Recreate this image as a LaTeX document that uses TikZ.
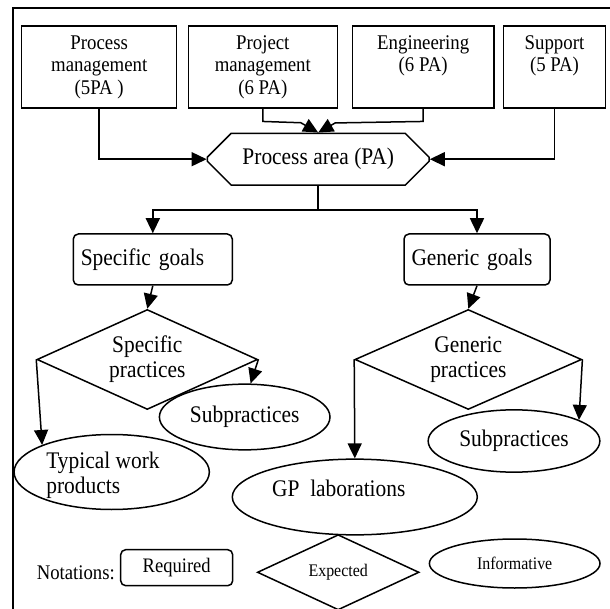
\documentclass[tikz,border=0pt]{standalone}
\usepackage{fontspec}
\setmainfont{Liberation Serif}[FakeStretch=0.9]
\usetikzlibrary{shapes.geometric,shapes.misc,arrows.meta}

\newcommand{\diagfont}{\fontsize{23.8}{25}\selectfont}
\newcommand{\headfont}{\fontsize{20.9}{22.5}\selectfont}
\newcommand{\smallkey}{\fontsize{17.7}{19}\selectfont}

\begin{document}
\begin{tikzpicture}[x=1pt,y=-1pt,line width=1.5pt,
  areabox/.style={draw,rectangle,minimum height=82pt,inner sep=0pt,align=center,font=\headfont},
  goalbox/.style={draw,rectangle,rounded corners=5pt,minimum height=51pt,inner xsep=7.5pt,align=left,font=\diagfont},
  practice/.style={draw,diamond,aspect=2.2,inner sep=0pt,minimum height=100pt,align=center,font=\diagfont},
  infoell/.style={draw,ellipse,inner sep=0pt,align=left,font=\diagfont},
  arr/.style={-{Triangle[length=15pt,width=14pt]}}]

\useasboundingbox (0,0) rectangle (610,609);

% frame, cut off by the page edge
\draw[line width=1.8pt] (12.7,609) -- (12.7,8.3) -- (610,8.3);

% process area categories
\node[areabox,minimum width=155pt] (pm) at (99.2,67.2) {Process\\management\\(5PA )};
\node[areabox,minimum width=149pt] (pjm) at (262.8,67.2) {Project\\management\\(6 PA)};
\node[areabox,minimum width=141.7pt] (eng) at (423.2,67.2) {Engineering\\(6 PA)\\\phantom{(}};
\node[areabox,minimum width=102.4pt] (sup) at (554.5,67.2) {Support\\(5 PA)\\\phantom{(}};

\node[draw,chamfered rectangle,chamfered rectangle xsep=15pt,chamfered rectangle ysep=13pt,
  minimum width=221.7pt,minimum height=51.7pt,inner sep=0pt,font=\diagfont] (pa) at (318.2,159.2) {Process area (PA)};

% goals
\node[goalbox,minimum width=159pt,text width=144pt] (sg) at (152.8,259.5) {Specific goals};
\node[goalbox,minimum width=146pt,text width=131pt] (gg) at (477,259.5) {Generic goals};

% practices
\node[practice,minimum width=220.6pt] (sp) at (147.3,359.5) {Specific\\practices};
\node[practice,minimum width=226.7pt] (gp) at (468.3,359.5) {Generic\\practices};

\node[infoell,minimum width=170.6pt,minimum height=65.7pt] (sub1) at (244.7,417) {Subpractices};
\node[infoell,minimum width=171.7pt,minimum height=62.3pt] (sub2) at (514,441) {Subpractices};
\node[infoell,minimum width=195.3pt,minimum height=75pt,
  label={[font=\diagfont,align=left,xshift=-8.7pt,yshift=-3pt]center:Typical work\\products}] (twp) at (111.7,472) {};
\node[infoell,minimum width=245pt,minimum height=75.7pt,
  label={[font=\diagfont,xshift=-16pt,yshift=8.7pt]center:GP\ \ laborations}] (gpl) at (354.8,497) {};

% connectors
\draw[arr] (pm.south) |- (pa.west);
\draw[arr] (sup.south) |- (pa.east);
\draw[arr] (pjm.south) -- ++(0,12.5) -- ++(38,1.3) -- (pa.north);
\draw[arr] (eng.south) -- ++(0,12.5) -- ++(-88,1.5) -- (pa.north);
\draw (pa.south) -- ++(0,24.3) coordinate (split);
\draw[arr] (split) -| (sg.north);
\draw[arr] (split) -| (gg.north);
\draw[arr] (sg.south) -- (sp.north);
\draw[arr] (gg.south) -- (gp.north);
\draw[arr] (sp.west) -- (twp.north west);
\draw[arr] (sp.east) -- (sub1.80);
\draw[arr] (gp.west) -- (gpl.north);
\draw[arr] (gp.east) -- (sub2.18);

% notations
\node[font=\fontsize{20.8}{22}\selectfont] (notes) at (75.8,572.3) {Notations:};
\node[draw,rounded corners=5pt,minimum width=112pt,minimum height=36pt,inner sep=0pt,font=\fontsize{20.6}{22}\selectfont] (req) at (176.7,567.7) {Required};
\node[draw,diamond,minimum width=161.7pt,minimum height=72pt,inner sep=0pt,font=\smallkey] (expd) at (338.2,572.3) {Expected};
\node[draw,ellipse,minimum width=170.6pt,minimum height=49pt,inner sep=0pt,font=\smallkey] (inf) at (514.7,563.5) {Informative};

\end{tikzpicture}
\end{document}
